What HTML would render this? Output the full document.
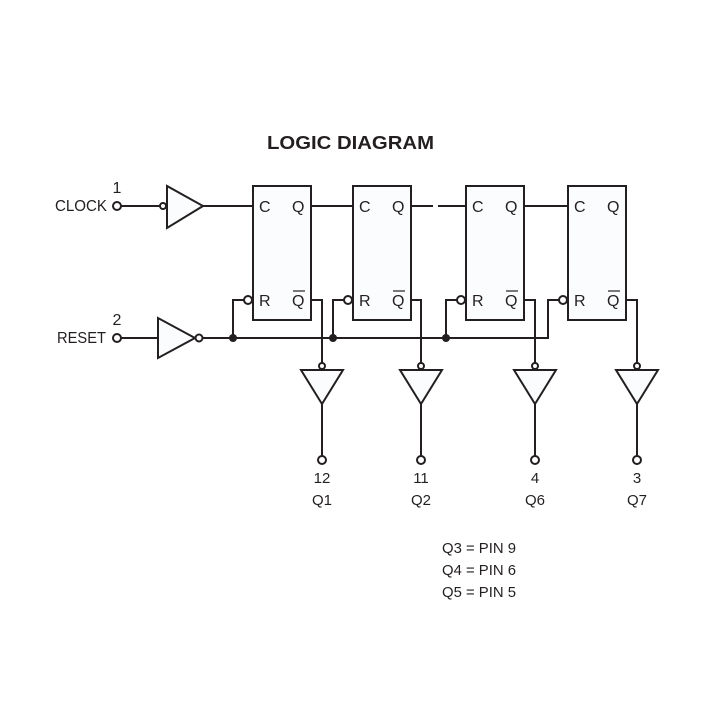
<!DOCTYPE html>
<html><head><style>body{margin:0;background:#fff}svg{display:block}text{font-family:"Liberation Sans",Arial,sans-serif}</style></head><body>
<svg width="720" height="720" viewBox="0 0 720 720" xmlns="http://www.w3.org/2000/svg" fill="#231f20">
<text x="267" y="149" font-size="18" font-weight="bold" textLength="167" lengthAdjust="spacingAndGlyphs">LOGIC DIAGRAM</text>
<g stroke="#231f20" stroke-width="2" fill="none">
<line x1="121" y1="206" x2="160" y2="206"/>
<circle cx="117" cy="206" r="4" fill="#fff"/>
<circle cx="163" cy="206" r="3" fill="#fff"/>
<polygon points="167,186 167,228 203,206" fill="#fafcfd"/>
<line x1="203" y1="206" x2="253" y2="206"/>
<line x1="311" y1="206" x2="353" y2="206"/>
<line x1="411" y1="206" x2="433" y2="206"/>
<line x1="438" y1="206" x2="466" y2="206"/>
<line x1="524" y1="206" x2="568" y2="206"/>
<line x1="121" y1="338" x2="158" y2="338"/>
<circle cx="117" cy="338" r="4" fill="#fff"/>
<polygon points="158,318 158,358 195,338" fill="#fafcfd"/>
<circle cx="199" cy="338" r="3.5" fill="#fff"/>
<polyline points="203,338 548,338 548,300 563,300"/>
<polyline points="233,338 233,300 244,300"/>
<polyline points="333,338 333,300 344,300"/>
<polyline points="446,338 446,300 457,300"/>
<rect x="253" y="186" width="58" height="134" fill="#fafcfd"/>
<rect x="353" y="186" width="58" height="134" fill="#fafcfd"/>
<rect x="466" y="186" width="58" height="134" fill="#fafcfd"/>
<rect x="568" y="186" width="58" height="134" fill="#fafcfd"/>
<circle cx="248" cy="300" r="4" fill="#fff"/>
<circle cx="348" cy="300" r="4" fill="#fff"/>
<circle cx="461" cy="300" r="4" fill="#fff"/>
<circle cx="563" cy="300" r="4" fill="#fff"/>
<g id="o">
<polyline points="311,300 322,300 322,363"/>
<circle cx="322" cy="366" r="3" fill="#fff"/>
<polygon points="301,370 343,370 322,404" fill="#fafcfd"/>
<line x1="322" y1="404" x2="322" y2="456"/>
<circle cx="322" cy="460" r="4" fill="#fff"/>
</g>
<use href="#o" x="99"/>
<use href="#o" x="213"/>
<use href="#o" x="315"/>
</g>
<g fill="#231f20">
<circle cx="233" cy="338" r="4"/><circle cx="333" cy="338" r="4"/><circle cx="446" cy="338" r="4"/>
</g>
<g font-size="16">
<text x="55" y="211" textLength="52" lengthAdjust="spacingAndGlyphs">CLOCK</text><text x="117" y="193" text-anchor="middle">1</text>
<text x="57" y="343" textLength="49" lengthAdjust="spacingAndGlyphs">RESET</text><text x="117" y="325" text-anchor="middle">2</text>
<g id="lb">
<text x="259" y="212">C</text><text x="292" y="212">Q</text>
<text x="259" y="306">R</text><text x="292" y="306">Q</text>
<line x1="293" y1="291" x2="305" y2="291" stroke="#231f20" stroke-width="1.2"/>
</g>
<use href="#lb" x="100"/><use href="#lb" x="213"/><use href="#lb" x="315"/>
<g text-anchor="middle" font-size="15">
<text x="322" y="483">12</text><text x="322" y="505">Q1</text>
<text x="421" y="483">11</text><text x="421" y="505">Q2</text>
<text x="535" y="483">4</text><text x="535" y="505">Q6</text>
<text x="637" y="483">3</text><text x="637" y="505">Q7</text>
</g>
<g font-size="15">
<text x="442" y="553" textLength="74" lengthAdjust="spacingAndGlyphs">Q3 = PIN 9</text>
<text x="442" y="575" textLength="74" lengthAdjust="spacingAndGlyphs">Q4 = PIN 6</text>
<text x="442" y="597" textLength="74" lengthAdjust="spacingAndGlyphs">Q5 = PIN 5</text>
</g>
</g>
</svg>
</body></html>
